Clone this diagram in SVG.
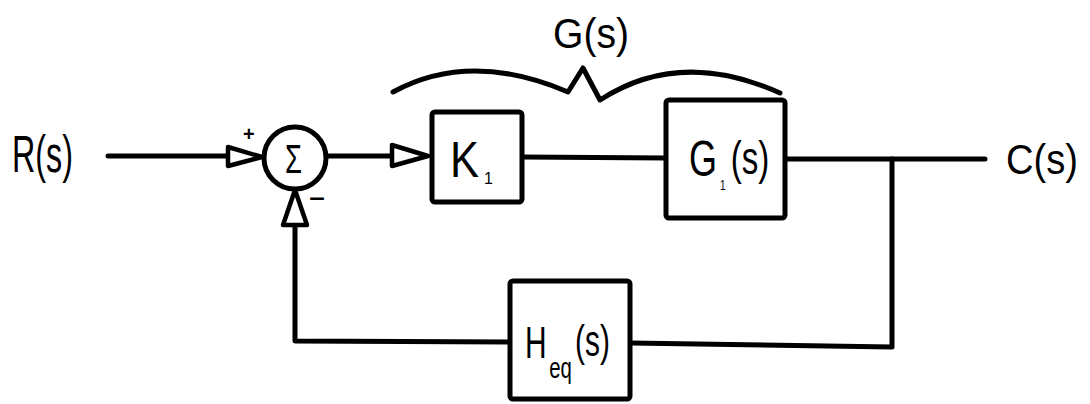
<svg xmlns="http://www.w3.org/2000/svg" width="1090" height="404" viewBox="0 0 1090 404">
  <defs>
    <style>
      .wire { fill: none; stroke: #000; stroke-width: 5; stroke-linecap: round; stroke-linejoin: round; }
      .block { fill: #fff; stroke: #000; stroke-width: 5; stroke-linejoin: round; }
      .head { fill: #fff; stroke: #000; stroke-width: 4.5; stroke-linejoin: round; }
      .lbl { font-family: "Liberation Sans", "DejaVu Sans", sans-serif; fill: #000; }
    </style>
  </defs>
  <rect width="1090" height="404" fill="#fff"/>

  <!-- signal lines -->
  <g id="connectors">
    <!-- R(s) into summing junction -->
    <path class="wire" d="M108,156 L228,156"/>
    <path class="head" d="M228,147 L262,157 L228,166 Z"/>
    <!-- junction to K1 -->
    <path class="wire" d="M327,156 L392,156"/>
    <path class="head" d="M392,145 L428,156 L392,166 Z"/>
    <!-- K1 to G1(s) -->
    <path class="wire" d="M522,157 L666,158"/>
    <!-- G1(s) to output C(s) -->
    <path class="wire" d="M785,159 L985,159"/>
    <!-- feedback path through Heq(s) -->
    <path class="wire" d="M892,159 L892,347 L630,343"/>
    <path class="wire" d="M510,342 L295,341 L295,225"/>
    <path class="head" d="M283,225 L295,190 L307,225 Z"/>
    <!-- brace over the forward path -->
    <path class="wire" d="M393,92 Q470,50 568,92 L583,68 L600,100 Q680,48 780,93"/>
  </g>

  <g id="input">
    <text class="lbl" x="12" y="172" font-size="52" textLength="61" lengthAdjust="spacingAndGlyphs">R(s)</text>
  </g>

  <g id="sum">
    <circle cx="295" cy="158" r="31" fill="#fff" stroke="#000" stroke-width="5"/>
    <text class="lbl" x="285" y="173" font-size="40" textLength="17" lengthAdjust="spacingAndGlyphs">Σ</text>
    <text class="lbl" x="243" y="141" font-size="20" font-weight="bold">+</text>
    <text class="lbl" x="309" y="206" font-size="22" font-weight="bold" textLength="16" lengthAdjust="spacingAndGlyphs">−</text>
  </g>

  <g id="k1">
    <rect class="block" x="432" y="112" width="90" height="90" rx="3"/>
    <text class="lbl" y="177" font-size="50"><tspan x="450" textLength="29" lengthAdjust="spacingAndGlyphs">K</tspan><tspan x="484" dy="7" font-size="16">1</tspan></text>
  </g>

  <g id="g1">
    <rect class="block" x="666" y="100" width="119" height="118" rx="3"/>
    <!-- narrow hand lettering: whole label squeezed horizontally -->
    <text class="lbl" transform="translate(689,176) scale(0.72,1)" font-size="50"><tspan x="0" y="0">G</tspan><tspan x="43" y="14" font-size="14">1</tspan><tspan x="58" y="-2" font-size="46">(s)</tspan></text>
  </g>

  <g id="forward-label">
    <text class="lbl" x="553" y="48" font-size="42" textLength="76" lengthAdjust="spacingAndGlyphs">G(s)</text>
  </g>

  <g id="heq">
    <rect class="block" x="510" y="281" width="120" height="118" rx="3"/>
    <text class="lbl" transform="translate(525,358) scale(0.68,1)" font-size="44"><tspan x="0" y="0">H</tspan><tspan x="35.5" y="20" font-size="30">eq</tspan><tspan x="73.5" y="-2" font-size="44">(s)</tspan></text>
  </g>

  <g id="output">
    <text class="lbl" x="1006" y="174" font-size="42" textLength="72" lengthAdjust="spacingAndGlyphs">C(s)</text>
  </g>
</svg>
